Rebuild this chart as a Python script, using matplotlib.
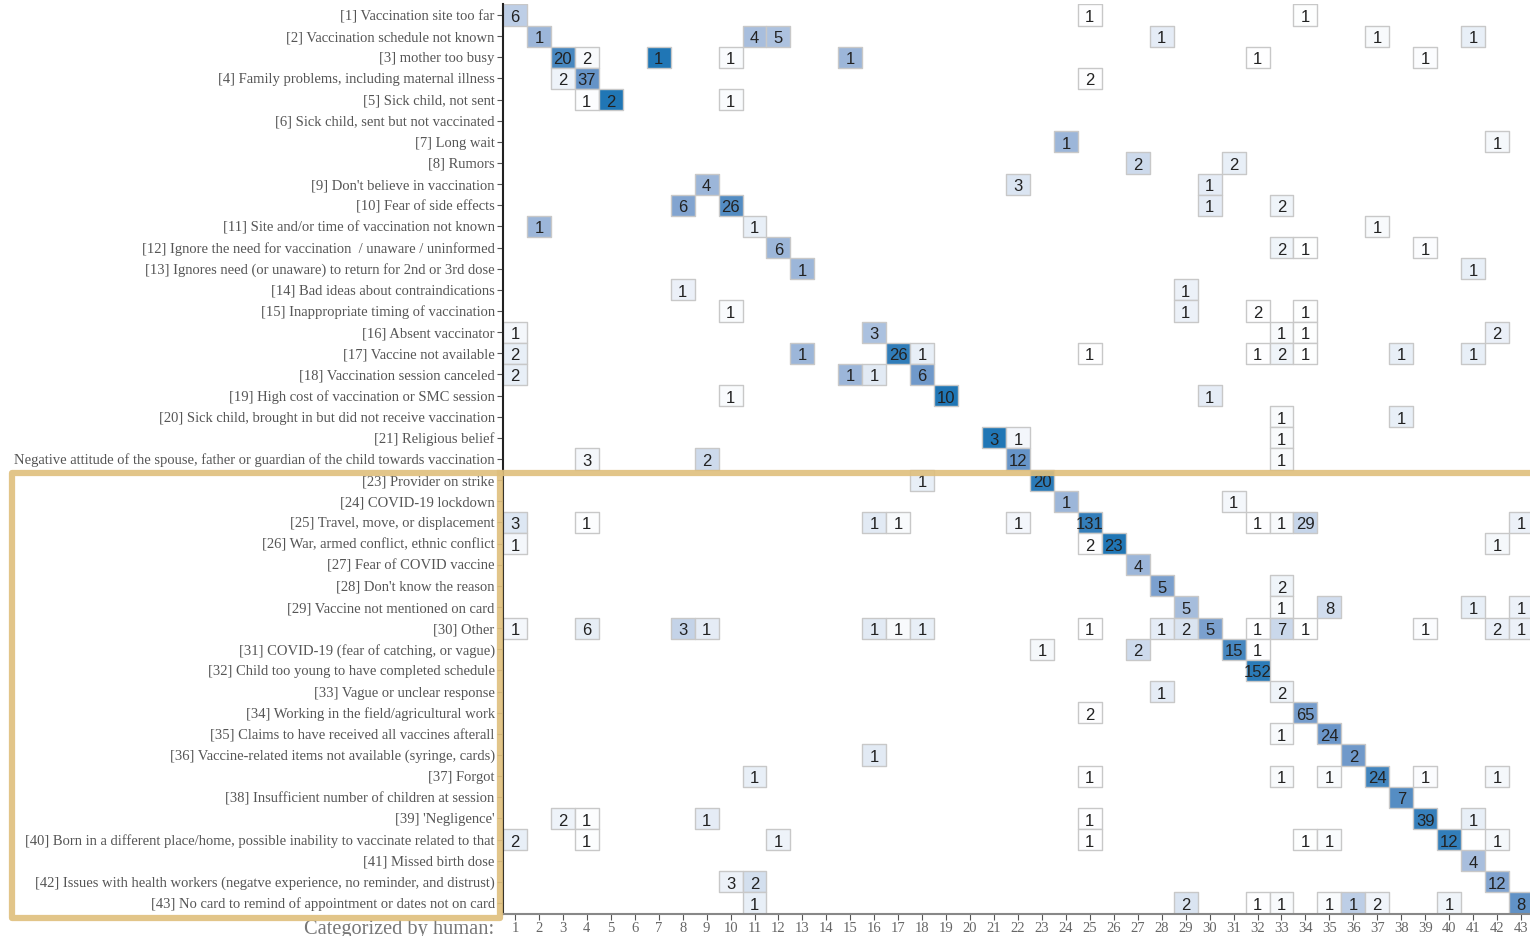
import numpy as np
import matplotlib.pyplot as plt
from matplotlib.colors import LinearSegmentedColormap
from matplotlib.patches import Rectangle
from matplotlib.collections import PatchCollection
from matplotlib.lines import Line2D

labels = [
    "[1] Vaccination site too far",
    "[2] Vaccination schedule not known",
    "[3] mother too busy",
    "[4] Family problems, including maternal illness",
    "[5] Sick child, not sent",
    "[6] Sick child, sent but not vaccinated",
    "[7] Long wait",
    "[8] Rumors",
    "[9] Don't believe in vaccination",
    "[10] Fear of side effects",
    "[11] Site and/or time of vaccination not known",
    "[12] Ignore the need for vaccination  / unaware / uninformed",
    "[13] Ignores need (or unaware) to return for 2nd or 3rd dose",
    "[14] Bad ideas about contraindications",
    "[15] Inappropriate timing of vaccination",
    "[16] Absent vaccinator",
    "[17] Vaccine not available",
    "[18] Vaccination session canceled",
    "[19] High cost of vaccination or SMC session",
    "[20] Sick child, brought in but did not receive vaccination",
    "[21] Religious belief",
    "Negative attitude of the spouse, father or guardian of the child towards vaccination",
    "[23] Provider on strike",
    "[24] COVID-19 lockdown",
    "[25] Travel, move, or displacement",
    "[26] War, armed conflict, ethnic conflict",
    "[27] Fear of COVID vaccine",
    "[28] Don't know the reason",
    "[29] Vaccine not mentioned on card",
    "[30] Other",
    "[31] COVID-19 (fear of catching, or vague)",
    "[32] Child too young to have completed schedule",
    "[33] Vague or unclear response",
    "[34] Working in the field/agricultural work",
    "[35] Claims to have received all vaccines afterall",
    "[36] Vaccine-related items not available (syringe, cards)",
    "[37] Forgot",
    "[38] Insufficient number of children at session",
    "[39] 'Negligence'",
    "[40] Born in a different place/home, possible inability to vaccinate related to that",
    "[41] Missed birth dose",
    "[42] Issues with health workers (negatve experience, no reminder, and distrust)",
    "[43] No card to remind of appointment or dates not on card",
]

# nonzero cells: row (category), column (categorized by human), count
rows = [1, 1, 1,
        2, 2, 2, 2, 2, 2,
        3, 3, 3, 3, 3, 3, 3,
        4, 4, 4,
        5, 5, 5,
        7, 7,
        8, 8,
        9, 9, 9,
        10, 10, 10, 10,
        11, 11, 11,
        12, 12, 12, 12,
        13, 13,
        14, 14,
        15, 15, 15, 15,
        16, 16, 16, 16, 16,
        17, 17, 17, 17, 17, 17, 17, 17, 17, 17,
        18, 18, 18, 18,
        19, 19, 19,
        20, 20,
        21, 21, 21,
        22, 22, 22, 22,
        23, 23,
        24, 24,
        25, 25, 25, 25, 25, 25, 25, 25, 25, 25,
        26, 26, 26, 26,
        27,
        28, 28,
        29, 29, 29, 29, 29,
        30, 30, 30, 30, 30, 30, 30, 30, 30, 30, 30, 30, 30, 30, 30, 30, 30,
        31, 31, 31, 31,
        32,
        33, 33,
        34, 34,
        35, 35,
        36, 36,
        37, 37, 37, 37, 37, 37, 37,
        38,
        39, 39, 39, 39, 39, 39,
        40, 40, 40, 40, 40, 40, 40, 40,
        41,
        42, 42, 42,
        43, 43, 43, 43, 43, 43, 43, 43, 43]
cols = [1, 25, 34,
        2, 11, 12, 28, 37, 41,
        3, 4, 7, 10, 15, 32, 39,
        3, 4, 25,
        4, 5, 10,
        24, 42,
        27, 31,
        9, 22, 30,
        8, 10, 30, 33,
        2, 11, 37,
        12, 33, 34, 39,
        13, 41,
        8, 29,
        10, 29, 32, 34,
        1, 16, 33, 34, 42,
        1, 13, 17, 18, 25, 32, 33, 34, 38, 41,
        1, 15, 16, 18,
        10, 19, 30,
        33, 38,
        21, 22, 33,
        4, 9, 22, 33,
        18, 23,
        24, 31,
        1, 4, 16, 17, 22, 25, 32, 33, 34, 43,
        1, 25, 26, 42,
        27,
        28, 33,
        29, 33, 35, 41, 43,
        1, 4, 8, 9, 16, 17, 18, 25, 28, 29, 30, 32, 33, 34, 39, 42, 43,
        23, 27, 31, 32,
        32,
        28, 33,
        25, 34,
        33, 35,
        16, 36,
        11, 25, 33, 35, 37, 39, 42,
        38,
        3, 4, 9, 25, 39, 41,
        1, 4, 12, 25, 34, 35, 40, 42,
        41,
        10, 11, 42,
        11, 29, 32, 33, 35, 36, 37, 40, 43]
counts = [6, 1, 1,
          1, 4, 5, 1, 1, 1,
          20, 2, 1, 1, 1, 1, 1,
          2, 37, 2,
          1, 2, 1,
          1, 1,
          2, 2,
          4, 3, 1,
          6, 26, 1, 2,
          1, 1, 1,
          6, 2, 1, 1,
          1, 1,
          1, 1,
          1, 1, 2, 1,
          1, 3, 1, 1, 2,
          2, 1, 26, 1, 1, 1, 2, 1, 1, 1,
          2, 1, 1, 6,
          1, 10, 1,
          1, 1,
          3, 1, 1,
          3, 2, 12, 1,
          1, 20,
          1, 1,
          3, 1, 1, 1, 1, 131, 1, 1, 29, 1,
          1, 2, 23, 1,
          4,
          5, 2,
          5, 1, 8, 1, 1,
          1, 6, 3, 1, 1, 1, 1, 1, 1, 2, 5, 1, 7, 1, 1, 2, 1,
          1, 2, 15, 1,
          152,
          1, 2,
          2, 65,
          1, 24,
          1, 2,
          1, 1, 1, 1, 24, 1, 1,
          7,
          2, 1, 1, 1, 39, 1,
          2, 1, 1, 1, 1, 1, 12, 1,
          4,
          3, 2, 12,
          1, 2, 1, 1, 1, 1, 2, 1, 8]

n = len(labels)
M = np.zeros((n, n))
for r, c, v in zip(rows, cols, counts):
    M[r - 1, c - 1] = v

# colour = share of the column total
colsum = M.sum(axis=0)
colsum[colsum == 0] = 1
frac = M / colsum

cmap = LinearSegmentedColormap.from_list(
    "cb", [(0, "#ffffff"), (0.12, "#e6edf6"), (0.5, "#9db6d9"),
           (0.67, "#6f98ca"), (1.0, "#2076b5")])

fig = plt.figure(figsize=(15.3, 9.36), dpi=100)
ax = fig.add_axes([503 / 1530, (936 - 913.6) / 936, 1030 / 1530, 909.2 / 936])

cells = [Rectangle((c - 0.5, r - 0.5), 1, 1) for r, c in zip(rows, cols)]
pc = PatchCollection(cells, cmap=cmap, edgecolor="#c8c8c8", linewidth=1)
pc.set_array(np.array([frac[r - 1, c - 1] for r, c in zip(rows, cols)]))
pc.set_clim(0, 1)
ax.add_collection(pc)

for r, c, v in zip(rows, cols, counts):
    ax.text(c, r + 0.05, str(v), ha="center", va="center_baseline", fontsize=12,
            family="Liberation Sans", color="#222222")

ax.set_xlim(0.5, n + 0.5)
ax.set_ylim(n + 0.5, 0.5)
ax.set_xticks(range(1, n + 1))
ax.set_xticklabels([str(i) for i in range(1, n + 1)], family="Liberation Serif",
                   fontsize=10.5, color="#666666")
ax.set_yticks(range(1, n + 1))
ax.set_yticklabels(labels, family="Liberation Serif", fontsize=10.5, color="#555555")
ax.tick_params(axis="both", length=4, width=0.8, color="#555555", pad=2)

for s in ["top", "right"]:
    ax.spines[s].set_visible(False)
ax.spines["left"].set_color("#222222")
ax.spines["left"].set_linewidth(1.5)
ax.spines["bottom"].set_color("#888888")
ax.spines["bottom"].set_linewidth(1.5)

fig.text(494 / 1530, 1 - 920 / 936, "Categorized by human:", ha="right", va="top",
         family="Liberation Serif", fontsize=14.7, color="#777777")

# highlight box around categories 23-43
gold = "#dfbf7c"
fig.patches.append(Rectangle((11.5 / 1530, 1 - 918 / 936), (500 - 11.5) / 1530,
                             (918 - 473) / 936, transform=fig.transFigure,
                             fill=False, edgecolor=gold, linewidth=4.5,
                             joinstyle="round", alpha=0.9, zorder=10))
fig.lines.append(Line2D([500 / 1530, 1.0], [1 - 473 / 936, 1 - 473 / 936],
                        transform=fig.transFigure, color=gold, linewidth=4.5,
                        alpha=0.9, zorder=10))

fig.savefig("out.png", dpi=100)
